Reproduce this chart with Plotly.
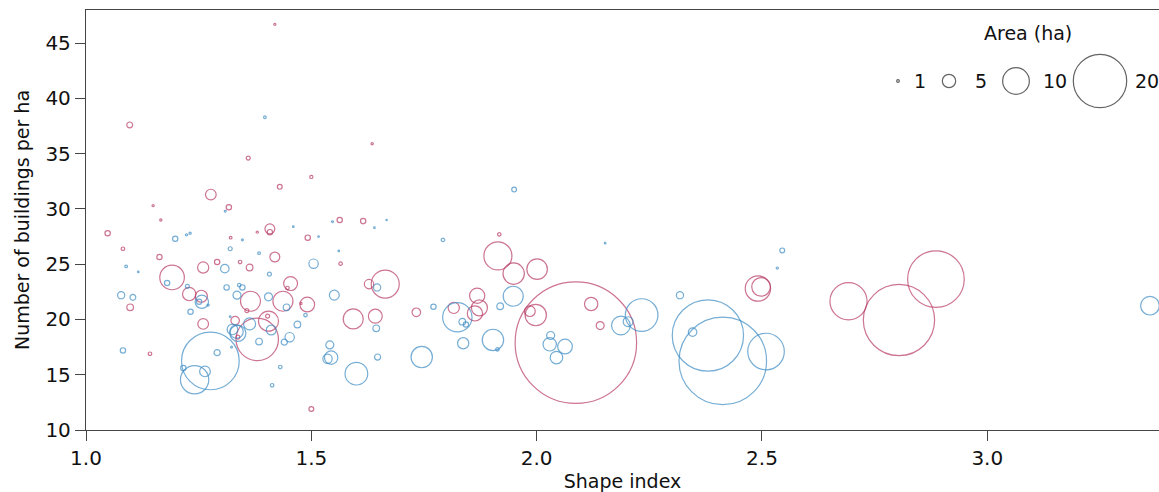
import plotly.graph_objects as go

# ---------------- data ----------------
red_x = [1.419, 1.097, 1.635, 1.360, 1.500, 1.430, 1.277, 1.149, 1.317, 1.166,
         1.048, 1.082, 1.321, 1.380, 1.408, 1.408, 1.163, 1.191, 1.260, 1.291,
         1.342, 1.363, 1.098, 1.229, 1.256, 1.260, 1.365, 1.357, 1.331, 1.337,
         1.380, 1.142, 1.492, 1.563, 1.615, 1.565, 1.419, 1.454, 1.447, 1.437,
         1.491, 1.477, 1.405, 1.403, 1.500, 1.593, 1.642, 1.628, 1.664, 1.733,
         1.917, 1.914, 1.949, 2.001, 1.868, 1.873, 1.863, 1.816, 1.998, 1.985,
         2.087, 2.121, 2.141, 2.491, 2.498, 2.692, 2.804, 2.886]
red_y = [46.7, 37.6, 35.9, 34.6, 32.9, 32.0, 31.3, 30.3, 30.15, 29.0,
         27.8, 26.4, 27.4, 27.9, 28.2, 27.9, 25.65, 23.8, 24.7, 25.2,
         25.2, 24.7, 21.1, 22.3, 22.1, 19.6, 21.65, 20.8, 19.9, 18.4,
         18.2, 16.9, 27.4, 29.0, 28.9, 25.05, 25.65, 23.25, 22.85, 21.65,
         21.35, 21.45, 19.85, 20.3, 11.9, 20.05, 20.3, 23.2, 23.2, 20.65,
         27.7, 25.75, 24.15, 24.55, 22.15, 21.05, 20.55, 21.05, 20.4, 20.75,
         17.9, 21.4, 19.45, 22.8, 22.95, 21.65, 19.95, 23.65]
red_area = [0.8, 2.2, 0.8, 1.5, 1.2, 1.8, 4.0, 0.8, 2.0, 0.8,
            2.0, 1.3, 1.0, 0.8, 3.7, 2.0, 2.0, 9.2, 4.2, 2.0,
            1.3, 2.5, 2.5, 5.0, 4.5, 4.0, 7.5, 1.5, 3.2, 1.5,
            15.9, 1.3, 2.0, 2.0, 2.0, 1.3, 3.7, 5.2, 1.3, 7.5,
            5.5, 0.8, 7.5, 1.5, 1.8, 7.5, 5.2, 3.5, 10.5, 3.2,
            1.3, 10.5, 8.0, 7.7, 5.7, 6.0, 5.7, 4.2, 8.0, 4.0,
            45.5, 5.0, 3.0, 9.5, 7.0, 13.9, 26.7, 21.2]

blue_x = [1.397, 1.309, 1.198, 1.223, 1.231, 1.347, 1.320, 1.384, 1.089, 1.116,
          1.180, 1.308, 1.078, 1.104, 1.225, 1.257, 1.251, 1.271, 1.232, 1.312,
          1.340, 1.347, 1.335, 1.320, 1.325, 1.337, 1.334, 1.363, 1.384, 1.323,
          1.276, 1.241, 1.264, 1.216, 1.291, 1.082, 1.516, 1.460, 1.547, 1.640,
          1.667, 1.792, 1.561, 1.407, 1.505, 1.405, 1.445, 1.487, 1.411, 1.469,
          1.452, 1.440, 1.431, 1.413, 1.551, 1.644, 1.646, 1.541, 1.536, 1.544,
          1.600, 1.647, 1.771, 1.745, 1.950, 2.152, 1.948, 1.919, 1.824, 1.835,
          1.843, 1.837, 1.903, 1.913, 2.031, 2.029, 2.063, 2.044, 2.187, 2.203,
          2.233, 2.318, 2.380, 2.346, 2.413, 2.509, 2.545, 2.534, 3.361]
blue_y = [38.3, 29.8, 27.3, 27.65, 27.8, 27.2, 26.4, 26.0, 24.8, 24.3,
          23.3, 24.6, 22.2, 22.0, 23.0, 21.6, 21.6, 21.3, 20.7, 22.9,
          23.1, 22.9, 22.2, 20.25, 19.1, 18.75, 18.9, 19.6, 18.0, 17.5,
          16.25, 14.55, 15.3, 15.6, 17.0, 17.2, 27.5, 28.4, 28.85, 28.3,
          29.0, 27.2, 26.2, 24.1, 25.05, 22.05, 21.1, 20.4, 19.05, 19.55,
          18.4, 17.95, 15.7, 14.05, 22.2, 19.2, 22.9, 17.7, 16.45, 16.55,
          15.1, 16.6, 21.15, 16.6, 31.75, 26.9, 22.1, 21.2, 20.2, 19.8,
          19.55, 17.85, 18.15, 17.3, 18.55, 17.75, 17.55, 16.55, 19.45, 19.8,
          20.4, 22.2, 18.55, 18.85, 16.25, 17.1, 26.25, 24.65, 21.25]
blue_area = [1.0, 0.7, 2.0, 0.8, 0.8, 0.7, 1.5, 1.0, 1.0, 0.6,
             2.0, 3.2, 2.7, 2.2, 1.5, 5.0, 2.0, 0.8, 2.0, 2.0,
             1.3, 2.0, 3.0, 0.6, 4.0, 6.0, 5.0, 4.5, 2.5, 0.7,
             21.6, 10.6, 4.0, 2.0, 2.3, 2.0, 0.6, 0.6, 0.7, 0.6,
             0.5, 1.3, 0.6, 1.5, 3.5, 3.0, 2.5, 1.3, 3.7, 2.5,
             3.5, 2.3, 1.3, 1.3, 3.7, 2.5, 2.7, 3.0, 3.5, 5.0,
             8.5, 2.3, 2.0, 8.0, 1.8, 0.6, 7.5, 2.5, 11.0, 2.5,
             2.0, 4.2, 8.0, 1.3, 3.0, 5.0, 5.5, 4.7, 7.0, 3.7,
             12.2, 2.7, 26.7, 3.2, 32.8, 13.7, 1.8, 0.8, 7.0]

legend_areas = [1, 5, 10, 20]
legend_labels = ["1", "5", "10", "20"]
x_ticks = [1.0, 1.5, 2.0, 2.5, 3.0]
x_tick_labels = ["1.0", "1.5", "2.0", "2.5", "3.0"]
y_ticks = [10, 15, 20, 25, 30, 35, 40, 45]

# ---------------- style ----------------
RED = "#b83a64"
BLUE = "#3d8cc4"
AXIS = "#444444"
FONT = "DejaVu Sans"
SIZEREF = 1 / 2.67   # diameter in px = area * 2.67

fig = go.Figure()

def bubble(xs, ys, areas, color):
    return go.Scatter(
        x=xs, y=ys, mode="markers", showlegend=False, hoverinfo="skip",
        marker=dict(size=areas, sizemode="diameter", sizeref=SIZEREF,
                    color="rgba(0,0,0,0)", line=dict(color=color, width=1.2)),
        cliponaxis=True)

fig.add_trace(bubble(red_x, red_y, red_area, RED))
fig.add_trace(bubble(blue_x, blue_y, blue_area, BLUE))

# size legend drawn on an overlay axis measured in page pixels
leg_px = [898, 949, 1016, 1100]
leg_label_px = [912, 973, 1041, 1133]
leg_row = 81
fig.add_trace(go.Scatter(
    x=leg_px, y=[leg_row] * len(leg_px), xaxis="x2", yaxis="y2",
    mode="markers", showlegend=False, hoverinfo="skip",
    marker=dict(size=legend_areas, sizemode="diameter", sizeref=SIZEREF,
                color="rgba(0,0,0,0)", line=dict(color="#222222", width=1.2))))

annotations = [dict(x=lx, y=leg_row, xref="x2", yref="y2", text=t, showarrow=False,
                    font=dict(family=FONT, size=19, color="#111111"),
                    xanchor="left", yanchor="middle")
               for lx, t in zip(leg_label_px, legend_labels)]
annotations.append(dict(x=1028, y=33, xref="x2", yref="y2", text="Area (ha)",
                        showarrow=False, font=dict(family=FONT, size=19, color="#111111"),
                        xanchor="center", yanchor="middle"))

fig.update_layout(
    width=1159, height=492,
    margin=dict(l=86, r=0, t=10, b=62),
    paper_bgcolor="white", plot_bgcolor="white",
    font=dict(family=FONT, size=19, color="#111111"),
    xaxis=dict(range=[1.0, 3.381], tickvals=x_ticks, ticktext=x_tick_labels,
               showgrid=False, zeroline=False, showline=True, linecolor=AXIS,
               linewidth=1.3, mirror=True, ticks="outside", ticklen=10,
               tickcolor=AXIS, tickwidth=1.3, tickfont=dict(size=20),
               title=dict(text="Shape index", standoff=9, font=dict(size=19))),
    yaxis=dict(range=[10, 48.0], tickvals=y_ticks, showgrid=False, zeroline=False,
               showline=True, linecolor=AXIS, linewidth=1.3, ticks="outside",
               ticklen=10, tickcolor=AXIS, tickwidth=1.3, tickfont=dict(size=20),
               title=dict(text="Number of buildings per ha", standoff=10,
                          font=dict(size=19))),
    xaxis2=dict(range=[86, 1159], overlaying="x", visible=False, fixedrange=True),
    yaxis2=dict(range=[430, 10], overlaying="y", visible=False, fixedrange=True),
    annotations=annotations,
)

fig.write_html("out.html")
